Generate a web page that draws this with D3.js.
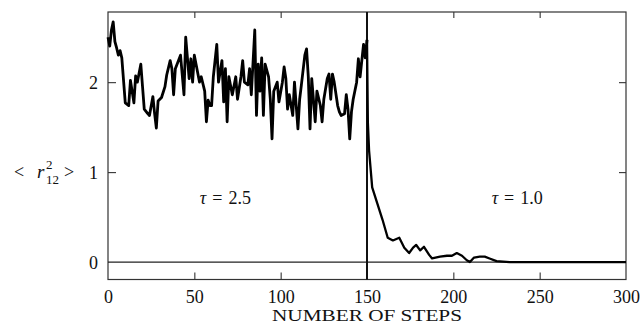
<!DOCTYPE html>
<html>
<head>
<meta charset="utf-8">
<script src="https://cdn.jsdelivr.net/npm/d3@7"></script>
<style>
  body { margin: 0; background: #fff; }
  text { font-family: "Liberation Serif", "DejaVu Serif", serif; fill: #111; }
</style>
</head>
<body>
<div id="chart"></div>
<script>
// steps and <r12^2>, tau = 2.5 part
const stepsHot = [0, 1, 2, 3, 4, 5, 6, 7, 8, 10, 12, 13, 15, 16, 17, 19, 20, 21, 23, 24,
    26, 27, 28, 29, 31, 33, 34, 36, 37, 38, 39, 40, 42, 44, 45, 47, 48, 49, 50, 51,
    53, 54, 56, 57, 58, 59, 60, 61, 63, 64, 66, 67, 68, 69, 70, 72, 74, 75, 77, 78,
    79, 81, 82, 83, 85, 86, 87, 88, 89, 90, 91, 93, 94, 95, 96, 98, 99, 101, 102, 103,
    104, 105, 107, 108, 110, 111, 112, 114, 115, 116, 117, 118, 120, 121, 123, 124, 125, 127, 128, 129,
    130, 131, 133, 134, 135, 137, 138, 139, 140, 141, 142, 144, 145, 146, 148, 149, 150];
const valuesHot = [2.50, 2.40, 2.58, 2.67, 2.45, 2.38, 2.30, 2.35, 2.27, 1.77, 1.74, 2.02, 1.77, 2.07, 2.00, 2.20, 1.95, 1.70, 1.65, 1.63,
    1.84, 1.65, 1.49, 1.79, 1.83, 1.95, 2.08, 2.24, 2.15, 1.86, 2.15, 2.20, 2.30, 1.86, 2.50, 2.04, 2.26, 2.00, 2.30, 2.20,
    2.00, 2.06, 1.90, 1.56, 1.80, 1.74, 1.74, 2.06, 2.42, 2.00, 2.24, 1.78, 2.15, 1.56, 2.06, 1.86, 2.06, 1.81, 2.06, 2.24,
    2.00, 1.97, 2.15, 1.86, 2.58, 1.63, 2.20, 1.90, 2.27, 1.63, 2.20, 2.06, 1.81, 1.37, 1.90, 2.00, 1.78, 2.00, 2.17, 2.04,
    1.70, 1.86, 1.63, 2.00, 1.48, 1.81, 1.97, 2.30, 2.37, 2.06, 1.48, 2.04, 1.56, 1.90, 1.74, 1.56, 1.81, 2.04, 2.09, 1.81,
    2.09, 2.00, 1.74, 1.67, 1.63, 1.65, 1.86, 1.70, 1.37, 1.67, 1.81, 2.00, 2.26, 2.06, 2.42, 2.27, 2.47];

// tau = 1.0 part
const stepsCold = [150, 150.5, 151.2, 153, 156, 159, 162, 165, 168.7, 171.6, 174.4, 176.7, 178.5, 180.8, 183,
    186, 187.7, 192.3, 196.3, 199.2, 202, 205, 207.8, 209.6, 212, 215.3, 218.2, 221, 225, 232.6, 300];
const valuesCold = [2.47, 1.55, 1.24, 0.83, 0.65, 0.47, 0.27, 0.24, 0.27, 0.16, 0.10, 0.16, 0.19, 0.13, 0.17,
    0.08, 0.04, 0.06, 0.07, 0.07, 0.10, 0.07, 0.02, 0.00, 0.05, 0.06, 0.06, 0.04, 0.01, 0.00, 0.00];

const xTicks = [0, 50, 100, 150, 200, 250, 300];
const yTicks = [0, 1, 2];
const switchStep = 150;

var margin = { top: 12, right: 15, bottom: 46.5, left: 108 },
    W = 641, H = 326,
    width = W - margin.left - margin.right,
    height = H - margin.top - margin.bottom;

var svg = d3.select("#chart").append("svg")
    .attr("width", W).attr("height", H);
var g = svg.append("g")
    .attr("transform", "translate(" + margin.left + "," + margin.top + ")");

var x = d3.scaleLinear().domain([0, 300]).range([0, width]);
var y = d3.scaleLinear().domain([-0.194, 2.78]).range([height, 0]);

// frame
g.append("rect")
    .attr("width", width).attr("height", height)
    .attr("fill", "none").attr("stroke", "#333").attr("stroke-width", 1.2);

// inward ticks, no labels on these
const inner = [50, 100, 200, 250];
g.append("g").attr("transform", "translate(0," + height + ")")
    .call(d3.axisTop(x).tickValues(inner).tickSize(7).tickFormat(""))
    .call(a => a.select(".domain").remove());
g.append("g")
    .call(d3.axisBottom(x).tickValues(inner).tickSize(6).tickFormat(""))
    .call(a => a.select(".domain").remove());
g.append("g")
    .call(d3.axisRight(y).tickValues([1, 2]).tickSize(8).tickFormat(""))
    .call(a => a.select(".domain").remove());
g.append("g").attr("transform", "translate(" + width + ",0)")
    .call(d3.axisLeft(y).tickValues([1, 2]).tickSize(7).tickFormat(""))
    .call(a => a.select(".domain").remove());
g.selectAll(".tick line").attr("stroke", "#333").attr("stroke-width", 1.1);

// tick labels
g.append("g").attr("transform", "translate(0," + (height + 5) + ")")
    .call(d3.axisBottom(x).tickValues(xTicks).tickSize(0).tickPadding(0).tickFormat(d3.format("d")))
    .call(a => a.select(".domain").remove())
    .selectAll("text").attr("font-size", 18).attr("dy", "1em")
    .style("font-family", "Liberation Serif").attr("fill", "#111");
g.append("g").attr("transform", "translate(-10,0)")
    .call(d3.axisLeft(y).tickValues(yTicks).tickSize(0).tickPadding(0).tickFormat(d3.format("d")))
    .call(a => a.select(".domain").remove())
    .selectAll("text").attr("font-size", 18).attr("dy", "0.35em")
    .style("font-family", "Liberation Serif").attr("fill", "#111");

// zero line and switch line
g.append("line")
    .attr("x1", 0).attr("x2", width).attr("y1", y(0)).attr("y2", y(0))
    .attr("stroke", "#222").attr("stroke-width", 1.3);
g.append("line")
    .attr("x1", x(switchStep)).attr("x2", x(switchStep)).attr("y1", 0).attr("y2", height)
    .attr("stroke", "#111").attr("stroke-width", 2);

var line = d3.line().x(d => x(d[0])).y(d => y(d[1]));
g.append("path")
    .datum(d3.zip(stepsHot, valuesHot))
    .attr("d", line).attr("fill", "none")
    .attr("stroke", "#000").attr("stroke-width", 2.8).attr("stroke-linejoin", "round");
g.append("path")
    .datum(d3.zip(stepsCold, valuesCold))
    .attr("d", line).attr("fill", "none")
    .attr("stroke", "#000").attr("stroke-width", 2.3).attr("stroke-linejoin", "round");

// tau labels
function tau(cx, val) {
    var t = g.append("text").attr("x", cx).attr("y", y(0.72)).attr("font-size", 18)
        .attr("text-anchor", "middle").attr("dy", "0.35em");
    t.append("tspan").attr("font-style", "italic").text("τ");
    t.append("tspan").attr("dx", 6).text("=");
    t.append("tspan").attr("dx", 6).text(val);
}
tau(x(68), "2.5");
tau(x(237), "1.0");

// axis titles
svg.append("text")
    .attr("x", margin.left + x(150)).attr("y", 321)
    .attr("text-anchor", "middle").attr("font-size", 17)
    .attr("textLength", 190).attr("lengthAdjust", "spacingAndGlyphs")
    .text("NUMBER OF STEPS");

var yl = svg.append("g").attr("transform", "translate(0," + (margin.top + y(1)) + ")");
yl.append("text").attr("x", 14).attr("y", 6).attr("font-size", 18).text("<");
yl.append("text").attr("x", 37).attr("y", 6).attr("font-size", 19).attr("font-style", "italic").text("r");
yl.append("text").attr("x", 46).attr("y", -3).attr("font-size", 13).text("2");
yl.append("text").attr("x", 46).attr("y", 12).attr("font-size", 13).text("12");
yl.append("text").attr("x", 64).attr("y", 6).attr("font-size", 18).text(">");
</script>
</body>
</html>
